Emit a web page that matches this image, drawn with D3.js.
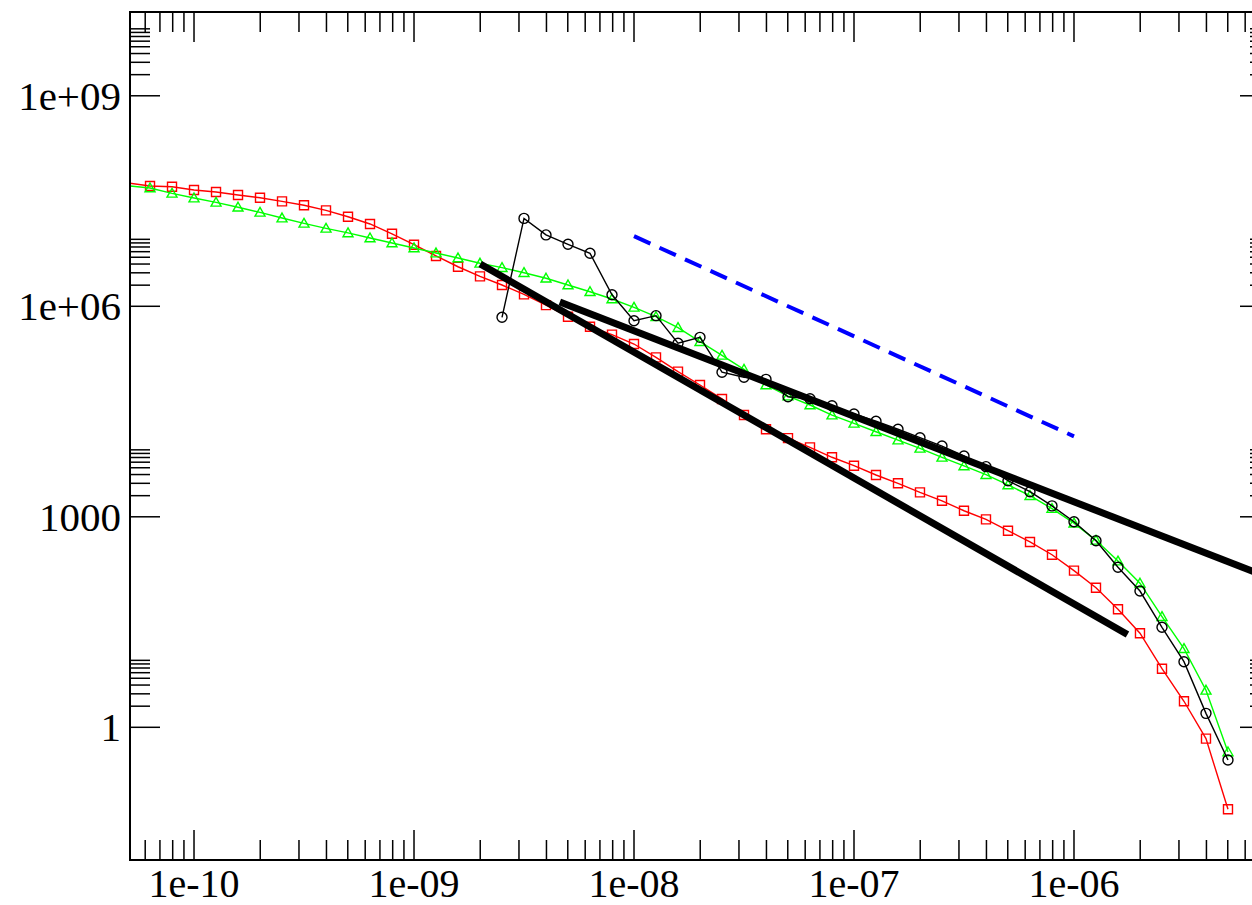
<!DOCTYPE html>
<html>
<head>
<meta charset="utf-8">
<script src="https://cdn.jsdelivr.net/npm/d3@7"></script>
<style>
  html, body { margin: 0; padding: 0; background: #ffffff; }
  svg { display: block; }
</style>
</head>
<body>
<svg id="chart" width="1252" height="905"></svg>
<script>
// Sampling points shared by all three curves (0.1-decade steps)
const xGrid = [5.012e-11, 6.310e-11, 7.943e-11, 1e-10, 1.259e-10, 1.585e-10, 1.995e-10,
  2.512e-10, 3.162e-10, 3.981e-10, 5.012e-10, 6.310e-10, 7.943e-10, 1e-9, 1.259e-9,
  1.585e-9, 1.995e-9, 2.512e-9, 3.162e-9, 3.981e-9, 5.012e-9, 6.310e-9, 7.943e-9, 1e-8,
  1.259e-8, 1.585e-8, 1.995e-8, 2.512e-8, 3.162e-8, 3.981e-8, 5.012e-8, 6.310e-8, 7.943e-8,
  1e-7, 1.259e-7, 1.585e-7, 1.995e-7, 2.512e-7, 3.162e-7, 3.981e-7, 5.012e-7, 6.310e-7,
  7.943e-7, 1e-6, 1.259e-6, 1.585e-6, 1.995e-6, 2.512e-6, 3.162e-6, 3.981e-6, 5.012e-6];

// Red squares
const redValues = [5.72e7, 5.18e7, 5.06e7, 4.54e7, 4.26e7, 3.85e7, 3.52e7, 3.13e7, 2.75e7,
  2.33e7, 1.89e7, 1.49e7, 1.08e7, 7.55e6, 5.21e6, 3.66e6, 2.67e6, 2.01e6, 1.48e6, 1.04e6,
  7.10e5, 5.12e5, 3.94e5, 2.90e5, 1.87e5, 1.17e5, 7.55e4, 4.78e4, 2.82e4, 1.77e4, 1.32e4,
  9.77e3, 7.05e3, 5.35e3, 3.94e3, 3.00e3, 2.23e3, 1.69e3, 1.22e3, 920, 634, 438, 288, 171,
  97.5, 48.1, 21.9, 6.84, 2.35, 0.689, 0.0678];

// Green triangles
const greenValues = [5.2e7, 4.85e7, 4.07e7, 3.49e7, 3.03e7, 2.58e7, 2.18e7, 1.81e7, 1.52e7,
  1.29e7, 1.11e7, 9.40e6, 7.98e6, 6.78e6, 5.74e6, 4.88e6, 4.10e6, 3.55e6, 3.01e6, 2.51e6,
  2.01e6, 1.61e6, 1.27e6, 9.66e5, 7.10e5, 4.95e5, 3.13e5, 2.00e5, 1.26e5, 7.55e4, 5.26e4,
  3.92e4, 2.82e4, 2.15e4, 1.63e4, 1.24e4, 9.46e3, 7.05e3, 5.30e3, 3.98e3, 2.84e3, 2.00e3,
  1.31e3, 811, 462, 234, 113, 37.7, 13.2, 3.37, 0.445];

// Black circles (start at 2.512e-9)
const blackStart = 17;
const blackValues = [6.97e5, 1.79e7, 1.04e7, 7.64e6, 5.69e6, 1.46e6, 6.23e5, 7.35e5, 2.97e5,
  3.61e5, 1.15e5, 9.73e4, 9.10e4, 5.14e4, 4.82e4, 3.83e4, 2.92e4, 2.30e4, 1.77e4, 1.34e4,
  1.02e4, 7.35e3, 5.18e3, 3.27e3, 2.28e3, 1.43e3, 851, 456, 191, 87.5, 26.6, 8.61, 1.58, 0.342];

// Power-law guide lines: [x0, y0, x1, y1]
const fitSteep = [2e-9, 4e6, 1.75e-6, 21];
const fitShallow = [4.6e-9, 1.15e6, 1e-5, 99];
const refDashed = [1e-8, 1e7, 1e-6, 1.4e4];

// Axis ticks and labels
const xTickValues = [1e-10, 1e-9, 1e-8, 1e-7, 1e-6];
const xTickLabels = ["1e-10", "1e-09", "1e-08", "1e-07", "1e-06"];
const yTickValues = [1, 1000, 1e6, 1e9];
const yTickLabels = ["1", "1000", "1e+06", "1e+09"];

const FONT = '"Liberation Serif", "Times New Roman", "DejaVu Serif", serif';
const padL = 130, padR = 1270, padT = 12, padB = 860;
const x = d3.scaleLog().domain([5.117e-11, 7.78e-6]).range([padL, padR]);
const y = d3.scaleLog().domain([0.01285, 1.563e10]).range([padB, padT]);

const svg = d3.select("#chart");
svg.append("defs").append("clipPath").attr("id", "plotClip")
  .append("rect").attr("x", padL).attr("y", padT)
  .attr("width", padR - padL).attr("height", padB - padT);

const plot = svg.append("g").attr("clip-path", "url(#plotClip)");
const inDomain = d => d[0] >= x.domain()[0] && d[0] <= x.domain()[1];

const line = d3.line().x(d => x(d[0])).y(d => y(d[1]));

function series(xs, ys, color, shape) {
  const pts = xs.map((v, i) => [v, ys[i]]);
  const g = plot.append("g");
  g.append("path").datum(pts).attr("d", line)
    .attr("fill", "none").attr("stroke", color).attr("stroke-width", 1.4);
  const marks = g.selectAll("path.m").data(pts.filter(inDomain)).enter().append("path")
    .attr("class", "m")
    .attr("transform", d => `translate(${x(d[0])},${y(d[1])})`)
    .attr("fill", "none").attr("stroke", color).attr("stroke-width", 1.4);
  if (shape === "square") marks.attr("d", "M-4.5,-4.5H4.5V4.5H-4.5Z");
  if (shape === "triangle") marks.attr("d", "M0,-5L5,3.8H-5Z");
  if (shape === "circle") marks.attr("d", d3.symbol(d3.symbolCircle, Math.PI * 25)());
}

series(xGrid, redValues, "#ff0000", "square");
series(xGrid, greenValues, "#00ff00", "triangle");
series(xGrid.slice(blackStart), blackValues, "#000000", "circle");

function segment(s, color, width, dash) {
  const p = plot.append("path")
    .datum([[s[0], s[1]], [s[2], s[3]]])
    .attr("d", line).attr("fill", "none")
    .attr("stroke", color).attr("stroke-width", width).attr("stroke-linecap", "butt");
  if (dash) p.attr("stroke-dasharray", dash);
}
segment(fitSteep, "#000000", 7);
segment(fitShallow, "#000000", 7);
segment(refDashed, "#0000ff", 4, "18,10");

// Frame
const axes = svg.append("g").attr("stroke", "#000").attr("fill", "none");
axes.append("rect").attr("x", padL).attr("y", padT)
  .attr("width", padR - padL).attr("height", padB - padT).attr("stroke-width", 2);

// X ticks (bottom and top, pointing inward): 2..9 within each decade
const xMinor = [];
for (let e = -11; e <= -6; e++) {
  for (let k = 2; k <= 9; k++) {
    const v = k * Math.pow(10, e);
    if (v >= x.domain()[0] && v <= x.domain()[1]) xMinor.push(v);
  }
}
xMinor.forEach(v => {
  const px = x(v);
  axes.append("line").attr("x1", px).attr("x2", px).attr("y1", padB).attr("y2", padB - 20).attr("stroke-width", 1.5);
  axes.append("line").attr("x1", px).attr("x2", px).attr("y1", padT).attr("y2", padT + 20).attr("stroke-width", 1.5);
});
xTickValues.forEach(v => {
  const px = x(v);
  axes.append("line").attr("x1", px).attr("x2", px).attr("y1", padB).attr("y2", padB - 30).attr("stroke-width", 1.5);
  axes.append("line").attr("x1", px).attr("x2", px).attr("y1", padT).attr("y2", padT + 30).attr("stroke-width", 1.5);
});

// Y ticks: majors every three decades, minors in the decade above each major
const yMinor = [];
yTickValues.forEach(m => { for (let k = 2; k <= 9; k++) yMinor.push(m * k); });
yMinor.forEach(v => {
  const py = y(v);
  axes.append("line").attr("x1", padL).attr("x2", padL + 20).attr("y1", py).attr("y2", py).attr("stroke-width", 1.5);
  axes.append("line").attr("x1", padR).attr("x2", padR - 20).attr("y1", py).attr("y2", py).attr("stroke-width", 1.5);
});
yTickValues.forEach(v => {
  const py = y(v);
  axes.append("line").attr("x1", padL).attr("x2", padL + 30).attr("y1", py).attr("y2", py).attr("stroke-width", 1.5);
  axes.append("line").attr("x1", padR).attr("x2", padR - 30).attr("y1", py).attr("y2", py).attr("stroke-width", 1.5);
});

// Tick labels
svg.append("g").selectAll("text").data(xTickValues).enter().append("text")
  .attr("x", d => x(d)).attr("y", 897)
  .attr("text-anchor", "middle")
  .attr("font-family", FONT).attr("font-size", 40).attr("fill", "#000")
  .text((d, i) => xTickLabels[i]);

svg.append("g").selectAll("text").data(yTickValues).enter().append("text")
  .attr("x", 121).attr("y", d => y(d) + 14)
  .attr("text-anchor", "end")
  .attr("font-family", FONT).attr("font-size", 41).attr("fill", "#000")
  .text((d, i) => yTickLabels[i]);
</script>
</body>
</html>
